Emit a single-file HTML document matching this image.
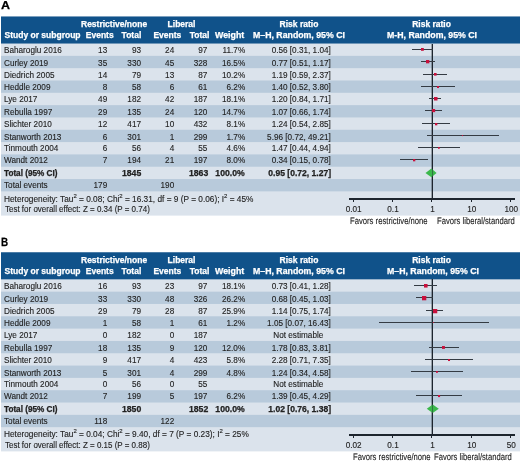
<!DOCTYPE html>
<html><head><meta charset="utf-8"><style>
html,body{margin:0;padding:0;background:#fff;}
body{width:520px;height:463px;position:relative;overflow:hidden;font-family:"Liberation Sans",sans-serif;color:#222222;}
.t{position:absolute;white-space:nowrap;line-height:1;-webkit-text-stroke:0.12px currentColor;}
.r{position:absolute;}
svg.r{overflow:visible;}
#tx{position:absolute;left:0;top:0;width:520px;height:463px;will-change:transform;}
sup{font-size:72%;vertical-align:0;position:relative;top:-0.62em;line-height:0;}
</style></head><body>
<div class="r" style="left:1.00px;top:16.00px;width:519.00px;height:1.00px;background:#7ca0bf;"></div>
<div class="r" style="left:1.00px;top:17.00px;width:519.00px;height:26.00px;background:#10528a;"></div>
<div class="r" style="left:1.00px;top:43.00px;width:519.00px;height:1.00px;background:#6f96b8;"></div>
<div class="r" style="left:1.00px;top:44.00px;width:519.00px;height:11.00px;background:#dbe3ec;"></div>
<div class="r" style="left:1.00px;top:55.00px;width:519.00px;height:1.00px;background:#d6dfe9;"></div>
<div class="r" style="left:1.00px;top:56.00px;width:519.00px;height:12.00px;background:#b8cadb;"></div>
<div class="r" style="left:1.00px;top:68.00px;width:519.00px;height:1.00px;background:#d5dfe9;"></div>
<div class="r" style="left:1.00px;top:69.00px;width:519.00px;height:11.00px;background:#dbe3ec;"></div>
<div class="r" style="left:1.00px;top:80.00px;width:519.00px;height:1.00px;background:#c9d6e3;"></div>
<div class="r" style="left:1.00px;top:81.00px;width:519.00px;height:11.00px;background:#b8cadb;"></div>
<div class="r" style="left:1.00px;top:92.00px;width:519.00px;height:1.00px;background:#bfcfde;"></div>
<div class="r" style="left:1.00px;top:93.00px;width:519.00px;height:12.00px;background:#dbe3ec;"></div>
<div class="r" style="left:1.00px;top:105.00px;width:519.00px;height:1.00px;background:#bdcddd;"></div>
<div class="r" style="left:1.00px;top:106.00px;width:519.00px;height:11.00px;background:#b8cadb;"></div>
<div class="r" style="left:1.00px;top:117.00px;width:519.00px;height:1.00px;background:#cbd8e4;"></div>
<div class="r" style="left:1.00px;top:118.00px;width:519.00px;height:11.00px;background:#dbe3ec;"></div>
<div class="r" style="left:1.00px;top:129.00px;width:519.00px;height:1.00px;background:#d3dde8;"></div>
<div class="r" style="left:1.00px;top:130.00px;width:519.00px;height:12.00px;background:#b8cadb;"></div>
<div class="r" style="left:1.00px;top:142.00px;width:519.00px;height:1.00px;background:#d8e1ea;"></div>
<div class="r" style="left:1.00px;top:143.00px;width:519.00px;height:11.00px;background:#dbe3ec;"></div>
<div class="r" style="left:1.00px;top:154.00px;width:519.00px;height:1.00px;background:#c6d4e2;"></div>
<div class="r" style="left:1.00px;top:155.00px;width:519.00px;height:11.00px;background:#b8cadb;"></div>
<div class="r" style="left:1.00px;top:166.00px;width:519.00px;height:1.00px;background:#c1d1e0;"></div>
<div class="r" style="left:1.00px;top:167.00px;width:519.00px;height:12.00px;background:#dbe3ec;"></div>
<div class="r" style="left:1.00px;top:179.00px;width:519.00px;height:1.00px;background:#bacbdc;"></div>
<div class="r" style="left:1.00px;top:180.00px;width:519.00px;height:11.00px;background:#b8cadb;"></div>
<div class="r" style="left:1.00px;top:191.00px;width:519.00px;height:1.00px;background:#cedae6;"></div>
<div class="r" style="left:1.00px;top:192.00px;width:519.00px;height:23.00px;background:#dbe3ec;"></div>
<div class="r" style="left:1.00px;top:215.00px;width:519.00px;height:1.00px;background:#e9eef4;"></div>
<div class="r" style="left:432.00px;top:44.00px;width:1.00px;height:154.00px;background:#1d252e;"></div>
<div class="r" style="left:431.00px;top:44.00px;width:1.00px;height:154.00px;background:#1d252e;opacity:0.35;"></div>
<div class="r" style="left:349.00px;top:198.00px;width:166.00px;height:2.00px;background:#1d252e;"></div>
<div class="r" style="left:353.00px;top:200.00px;width:1.00px;height:1.60px;background:#1d252e;"></div>
<div class="r" style="left:392.00px;top:200.00px;width:1.00px;height:1.60px;background:#1d252e;"></div>
<div class="r" style="left:431.00px;top:200.00px;width:1.00px;height:1.60px;background:#1d252e;"></div>
<div class="r" style="left:471.00px;top:200.00px;width:1.00px;height:1.60px;background:#1d252e;"></div>
<div class="r" style="left:510.00px;top:200.00px;width:1.00px;height:1.60px;background:#1d252e;"></div>
<div class="r" style="left:412.24px;top:49.00px;width:20.73px;height:1.00px;background:#343b43;"></div>
<svg class="r" style="left:420.97px;top:48.40px" width="2.81" height="2.81"><rect width="2.80" height="2.80" fill="#c8103c"/></svg>
<div class="r" style="left:420.77px;top:61.00px;width:14.22px;height:1.00px;background:#343b43;"></div>
<svg class="r" style="left:426.16px;top:60.13px" width="3.34" height="3.34"><rect width="3.33" height="3.33" fill="#c8103c"/></svg>
<div class="r" style="left:423.26px;top:74.00px;width:23.81px;height:1.00px;background:#343b43;"></div>
<svg class="r" style="left:433.97px;top:73.49px" width="2.63" height="2.63"><rect width="2.62" height="2.62" fill="#c8103c"/></svg>
<div class="r" style="left:421.10px;top:86.00px;width:34.06px;height:1.00px;background:#343b43;"></div>
<svg class="r" style="left:437.04px;top:85.78px" width="2.05" height="2.05"><rect width="2.04" height="2.04" fill="#c8103c"/></svg>
<div class="r" style="left:429.31px;top:98.00px;width:12.17px;height:1.00px;background:#343b43;"></div>
<svg class="r" style="left:433.68px;top:97.06px" width="3.50" height="3.50"><rect width="3.49" height="3.49" fill="#c8103c"/></svg>
<div class="r" style="left:425.18px;top:110.00px;width:16.60px;height:1.00px;background:#343b43;"></div>
<svg class="r" style="left:431.89px;top:109.23px" width="3.15" height="3.15"><rect width="3.14" height="3.14" fill="#c8103c"/></svg>
<div class="r" style="left:421.75px;top:123.00px;width:28.49px;height:1.00px;background:#343b43;"></div>
<svg class="r" style="left:434.82px;top:122.63px" width="2.34" height="2.34"><rect width="2.33" height="2.33" fill="#c8103c"/></svg>
<div class="r" style="left:426.67px;top:135.00px;width:72.34px;height:1.00px;background:#343b43;"></div>
<svg class="r" style="left:462.33px;top:135.27px" width="1.08" height="1.08"><rect width="1.07" height="1.07" fill="#c8103c"/></svg>
<div class="r" style="left:418.24px;top:147.00px;width:41.41px;height:1.00px;background:#343b43;"></div>
<svg class="r" style="left:438.02px;top:146.92px" width="1.77" height="1.77"><rect width="1.76" height="1.76" fill="#c8103c"/></svg>
<div class="r" style="left:399.81px;top:159.00px;width:28.23px;height:1.00px;background:#343b43;"></div>
<svg class="r" style="left:412.67px;top:158.64px" width="2.33" height="2.33"><rect width="2.32" height="2.32" fill="#c8103c"/></svg>
<div class="r" style="left:1.00px;top:252.00px;width:519.00px;height:1.00px;background:#4c7da7;"></div>
<div class="r" style="left:1.00px;top:253.00px;width:519.00px;height:26.00px;background:#10528a;"></div>
<div class="r" style="left:1.00px;top:279.00px;width:519.00px;height:1.00px;background:#98b3cc;"></div>
<div class="r" style="left:1.00px;top:280.00px;width:519.00px;height:11.00px;background:#dbe3ec;"></div>
<div class="r" style="left:1.00px;top:291.00px;width:519.00px;height:1.00px;background:#cfdae6;"></div>
<div class="r" style="left:1.00px;top:292.00px;width:519.00px;height:11.00px;background:#b8cadb;"></div>
<div class="r" style="left:1.00px;top:303.00px;width:519.00px;height:1.00px;background:#b9cbdc;"></div>
<div class="r" style="left:1.00px;top:304.00px;width:519.00px;height:12.00px;background:#dbe3ec;"></div>
<div class="r" style="left:1.00px;top:316.00px;width:519.00px;height:1.00px;background:#c2d1e0;"></div>
<div class="r" style="left:1.00px;top:317.00px;width:519.00px;height:11.00px;background:#b8cadb;"></div>
<div class="r" style="left:1.00px;top:328.00px;width:519.00px;height:1.00px;background:#c6d4e2;"></div>
<div class="r" style="left:1.00px;top:329.00px;width:519.00px;height:11.00px;background:#dbe3ec;"></div>
<div class="r" style="left:1.00px;top:340.00px;width:519.00px;height:1.00px;background:#d9e1eb;"></div>
<div class="r" style="left:1.00px;top:341.00px;width:519.00px;height:12.00px;background:#b8cadb;"></div>
<div class="r" style="left:1.00px;top:353.00px;width:519.00px;height:1.00px;background:#d2dde8;"></div>
<div class="r" style="left:1.00px;top:354.00px;width:519.00px;height:11.00px;background:#dbe3ec;"></div>
<div class="r" style="left:1.00px;top:365.00px;width:519.00px;height:1.00px;background:#ccd8e5;"></div>
<div class="r" style="left:1.00px;top:366.00px;width:519.00px;height:11.00px;background:#b8cadb;"></div>
<div class="r" style="left:1.00px;top:377.00px;width:519.00px;height:1.00px;background:#bccddd;"></div>
<div class="r" style="left:1.00px;top:378.00px;width:519.00px;height:12.00px;background:#dbe3ec;"></div>
<div class="r" style="left:1.00px;top:390.00px;width:519.00px;height:1.00px;background:#bfcfdf;"></div>
<div class="r" style="left:1.00px;top:391.00px;width:519.00px;height:11.00px;background:#b8cadb;"></div>
<div class="r" style="left:1.00px;top:402.00px;width:519.00px;height:1.00px;background:#c8d6e3;"></div>
<div class="r" style="left:1.00px;top:403.00px;width:519.00px;height:11.00px;background:#dbe3ec;"></div>
<div class="r" style="left:1.00px;top:414.00px;width:519.00px;height:1.00px;background:#d6dfe9;"></div>
<div class="r" style="left:1.00px;top:415.00px;width:519.00px;height:12.00px;background:#b8cadb;"></div>
<div class="r" style="left:1.00px;top:427.00px;width:519.00px;height:1.00px;background:#d5dfe9;"></div>
<div class="r" style="left:1.00px;top:428.00px;width:519.00px;height:23.00px;background:#dbe3ec;"></div>
<div class="r" style="left:1.00px;top:451.00px;width:519.00px;height:1.00px;background:#f1f4f7;"></div>
<div class="r" style="left:432.00px;top:279.00px;width:1.00px;height:155.00px;background:#1d252e;"></div>
<div class="r" style="left:431.00px;top:279.00px;width:1.00px;height:155.00px;background:#1d252e;opacity:0.35;"></div>
<div class="r" style="left:349.00px;top:434.00px;width:166.00px;height:2.00px;background:#1d252e;"></div>
<div class="r" style="left:353.00px;top:436.00px;width:1.00px;height:1.60px;background:#1d252e;"></div>
<div class="r" style="left:392.00px;top:436.00px;width:1.00px;height:1.60px;background:#1d252e;"></div>
<div class="r" style="left:431.00px;top:436.00px;width:1.00px;height:1.60px;background:#1d252e;"></div>
<div class="r" style="left:471.00px;top:436.00px;width:1.00px;height:1.60px;background:#1d252e;"></div>
<div class="r" style="left:510.00px;top:436.00px;width:1.00px;height:1.60px;background:#1d252e;"></div>
<div class="r" style="left:414.29px;top:285.00px;width:22.99px;height:1.00px;background:#343b43;"></div>
<svg class="r" style="left:424.16px;top:284.01px" width="3.58" height="3.58"><rect width="3.57" height="3.57" fill="#c8103c"/></svg>
<div class="r" style="left:416.17px;top:297.00px;width:16.72px;height:1.00px;background:#343b43;"></div>
<svg class="r" style="left:422.36px;top:295.65px" width="4.31" height="4.31"><rect width="4.30" height="4.30" fill="#c8103c"/></svg>
<div class="r" style="left:426.49px;top:310.00px;width:17.00px;height:1.00px;background:#343b43;"></div>
<svg class="r" style="left:432.81px;top:308.66px" width="4.28" height="4.28"><rect width="4.27" height="4.27" fill="#c8103c"/></svg>
<div class="r" style="left:378.60px;top:322.00px;width:110.23px;height:1.00px;background:#343b43;"></div>
<svg class="r" style="left:432.83px;top:322.34px" width="0.93" height="0.93"><rect width="0.92" height="0.92" fill="#c8103c"/></svg>
<div class="r" style="left:428.54px;top:347.00px;width:30.78px;height:1.00px;background:#343b43;"></div>
<svg class="r" style="left:442.49px;top:346.35px" width="2.92" height="2.92"><rect width="2.91" height="2.91" fill="#c8103c"/></svg>
<div class="r" style="left:425.38px;top:359.00px;width:47.20px;height:1.00px;background:#343b43;"></div>
<svg class="r" style="left:447.93px;top:358.79px" width="2.03" height="2.03"><rect width="2.02" height="2.02" fill="#c8103c"/></svg>
<div class="r" style="left:410.51px;top:371.00px;width:52.52px;height:1.00px;background:#343b43;"></div>
<svg class="r" style="left:435.72px;top:370.88px" width="1.85" height="1.85"><rect width="1.84" height="1.84" fill="#c8103c"/></svg>
<div class="r" style="left:416.17px;top:395.00px;width:45.53px;height:1.00px;background:#343b43;"></div>
<svg class="r" style="left:437.90px;top:394.75px" width="2.10" height="2.10"><rect width="2.09" height="2.09" fill="#c8103c"/></svg>
<svg class="r" style="left:0;top:0" width="520" height="463"><polygon points="425.47,172.89 431.42,168.59 436.59,172.89 431.42,177.19" fill="#3cb84c"/><rect x="432" y="168.59" width="1" height="8.60" fill="#1d252e" opacity="0.45"/><polygon points="426.76,408.69 432.70,404.39 438.80,408.69 432.70,412.99" fill="#3cb84c"/><rect x="432" y="404.39" width="1" height="8.60" fill="#1d252e" opacity="0.45"/></svg>
<div id="tx">
<div class="t" style="top:0px;font-size:11.6px;font-weight:bold;-webkit-text-stroke:0.25px currentColor;color:#000;left:1.00px;text-rendering:geometricPrecision;"><span style="display:inline-block;transform:scaleX(1.08);transform-origin:left">A</span></div>
<div class="t" style="top:20px;font-size:8.5px;font-weight:bold;-webkit-text-stroke:0.25px currentColor;color:#fff;left:81.00px;">Restrictive/none</div>
<div class="t" style="top:20px;font-size:8.5px;font-weight:bold;-webkit-text-stroke:0.25px currentColor;color:#fff;left:167.60px;">Liberal</div>
<div class="t" style="top:20px;font-size:8.5px;font-weight:bold;-webkit-text-stroke:0.25px currentColor;color:#fff;left:279.60px;">Risk ratio</div>
<div class="t" style="top:20px;font-size:8.5px;font-weight:bold;-webkit-text-stroke:0.25px currentColor;color:#fff;left:412.20px;">Risk ratio</div>
<div class="t" style="top:31px;font-size:8.5px;font-weight:bold;-webkit-text-stroke:0.25px currentColor;color:#fff;left:4.50px;">Study or subgroup</div>
<div class="t" style="top:31px;font-size:8.5px;font-weight:bold;-webkit-text-stroke:0.25px currentColor;color:#fff;left:85.80px;">Events</div>
<div class="t" style="top:31px;font-size:8.5px;font-weight:bold;-webkit-text-stroke:0.25px currentColor;color:#fff;left:121.60px;">Total</div>
<div class="t" style="top:31px;font-size:8.5px;font-weight:bold;-webkit-text-stroke:0.25px currentColor;color:#fff;left:153.40px;">Events</div>
<div class="t" style="top:31px;font-size:8.5px;font-weight:bold;-webkit-text-stroke:0.25px currentColor;color:#fff;left:189.70px;">Total</div>
<div class="t" style="top:31px;font-size:8.5px;font-weight:bold;-webkit-text-stroke:0.25px currentColor;color:#fff;left:215.30px;"><span style="display:inline-block;transform:scaleX(1.04);transform-origin:left">Weight</span></div>
<div class="t" style="top:31px;font-size:8.5px;font-weight:bold;-webkit-text-stroke:0.25px currentColor;color:#fff;left:253.40px;"><span style="display:inline-block;transform:scaleX(1.03);transform-origin:left">M&ndash;H, Random, 95% CI</span></div>
<div class="t" style="top:31px;font-size:8.5px;font-weight:bold;-webkit-text-stroke:0.25px currentColor;color:#fff;left:387.40px;"><span style="display:inline-block;transform:scaleX(1.03);transform-origin:left">M-H, Random, 95% CI</span></div>
<div class="t" style="top:47px;font-size:8.2px;left:4.00px;">Baharoglu 2016</div>
<div class="t" style="top:47px;font-size:8.2px;right:412.80px;">13</div>
<div class="t" style="top:47px;font-size:8.2px;right:379.00px;">93</div>
<div class="t" style="top:47px;font-size:8.2px;right:345.80px;">24</div>
<div class="t" style="top:47px;font-size:8.2px;right:312.60px;">97</div>
<div class="t" style="top:47px;font-size:8.2px;right:274.80px;">11.7%</div>
<div class="t" style="top:47px;font-size:8.2px;right:189.20px;">0.56 [0.31, 1.04]</div>
<div class="t" style="top:60px;font-size:8.2px;left:4.00px;">Curley 2019</div>
<div class="t" style="top:60px;font-size:8.2px;right:412.80px;">35</div>
<div class="t" style="top:60px;font-size:8.2px;right:379.00px;">330</div>
<div class="t" style="top:60px;font-size:8.2px;right:345.80px;">45</div>
<div class="t" style="top:60px;font-size:8.2px;right:312.60px;">328</div>
<div class="t" style="top:60px;font-size:8.2px;right:274.80px;">16.5%</div>
<div class="t" style="top:60px;font-size:8.2px;right:189.20px;">0.77 [0.51, 1.17]</div>
<div class="t" style="top:72px;font-size:8.2px;left:4.00px;">Diedrich 2005</div>
<div class="t" style="top:72px;font-size:8.2px;right:412.80px;">14</div>
<div class="t" style="top:72px;font-size:8.2px;right:379.00px;">79</div>
<div class="t" style="top:72px;font-size:8.2px;right:345.80px;">13</div>
<div class="t" style="top:72px;font-size:8.2px;right:312.60px;">87</div>
<div class="t" style="top:72px;font-size:8.2px;right:274.80px;">10.2%</div>
<div class="t" style="top:72px;font-size:8.2px;right:189.20px;">1.19 [0.59, 2.37]</div>
<div class="t" style="top:84px;font-size:8.2px;left:4.00px;">Heddle 2009</div>
<div class="t" style="top:84px;font-size:8.2px;right:412.80px;">8</div>
<div class="t" style="top:84px;font-size:8.2px;right:379.00px;">58</div>
<div class="t" style="top:84px;font-size:8.2px;right:345.80px;">6</div>
<div class="t" style="top:84px;font-size:8.2px;right:312.60px;">61</div>
<div class="t" style="top:84px;font-size:8.2px;right:274.80px;">6.2%</div>
<div class="t" style="top:84px;font-size:8.2px;right:189.20px;">1.40 [0.52, 3.80]</div>
<div class="t" style="top:96px;font-size:8.2px;left:4.00px;">Lye 2017</div>
<div class="t" style="top:96px;font-size:8.2px;right:412.80px;">49</div>
<div class="t" style="top:96px;font-size:8.2px;right:379.00px;">182</div>
<div class="t" style="top:96px;font-size:8.2px;right:345.80px;">42</div>
<div class="t" style="top:96px;font-size:8.2px;right:312.60px;">187</div>
<div class="t" style="top:96px;font-size:8.2px;right:274.80px;">18.1%</div>
<div class="t" style="top:96px;font-size:8.2px;right:189.20px;">1.20 [0.84, 1.71]</div>
<div class="t" style="top:109px;font-size:8.2px;left:4.00px;">Rebulla 1997</div>
<div class="t" style="top:109px;font-size:8.2px;right:412.80px;">29</div>
<div class="t" style="top:109px;font-size:8.2px;right:379.00px;">135</div>
<div class="t" style="top:109px;font-size:8.2px;right:345.80px;">24</div>
<div class="t" style="top:109px;font-size:8.2px;right:312.60px;">120</div>
<div class="t" style="top:109px;font-size:8.2px;right:274.80px;">14.7%</div>
<div class="t" style="top:109px;font-size:8.2px;right:189.20px;">1.07 [0.66, 1.74]</div>
<div class="t" style="top:121px;font-size:8.2px;left:4.00px;">Slichter 2010</div>
<div class="t" style="top:121px;font-size:8.2px;right:412.80px;">12</div>
<div class="t" style="top:121px;font-size:8.2px;right:379.00px;">417</div>
<div class="t" style="top:121px;font-size:8.2px;right:345.80px;">10</div>
<div class="t" style="top:121px;font-size:8.2px;right:312.60px;">432</div>
<div class="t" style="top:121px;font-size:8.2px;right:274.80px;">8.1%</div>
<div class="t" style="top:121px;font-size:8.2px;right:189.20px;">1.24 [0.54, 2.85]</div>
<div class="t" style="top:134px;font-size:8.2px;left:4.00px;">Stanworth 2013</div>
<div class="t" style="top:134px;font-size:8.2px;right:412.80px;">6</div>
<div class="t" style="top:134px;font-size:8.2px;right:379.00px;">301</div>
<div class="t" style="top:134px;font-size:8.2px;right:345.80px;">1</div>
<div class="t" style="top:134px;font-size:8.2px;right:312.60px;">299</div>
<div class="t" style="top:134px;font-size:8.2px;right:274.80px;">1.7%</div>
<div class="t" style="top:134px;font-size:8.2px;right:189.20px;">5.96 [0.72, 49.21]</div>
<div class="t" style="top:145px;font-size:8.2px;left:4.00px;">Tinmouth 2004</div>
<div class="t" style="top:145px;font-size:8.2px;right:412.80px;">6</div>
<div class="t" style="top:145px;font-size:8.2px;right:379.00px;">56</div>
<div class="t" style="top:145px;font-size:8.2px;right:345.80px;">4</div>
<div class="t" style="top:145px;font-size:8.2px;right:312.60px;">55</div>
<div class="t" style="top:145px;font-size:8.2px;right:274.80px;">4.6%</div>
<div class="t" style="top:145px;font-size:8.2px;right:189.20px;">1.47 [0.44, 4.94]</div>
<div class="t" style="top:157px;font-size:8.2px;left:4.00px;">Wandt 2012</div>
<div class="t" style="top:157px;font-size:8.2px;right:412.80px;">7</div>
<div class="t" style="top:157px;font-size:8.2px;right:379.00px;">194</div>
<div class="t" style="top:157px;font-size:8.2px;right:345.80px;">21</div>
<div class="t" style="top:157px;font-size:8.2px;right:312.60px;">197</div>
<div class="t" style="top:157px;font-size:8.2px;right:274.80px;">8.0%</div>
<div class="t" style="top:157px;font-size:8.2px;right:189.20px;">0.34 [0.15, 0.78]</div>
<div class="t" style="top:170px;font-size:8.2px;font-weight:bold;-webkit-text-stroke:0.25px currentColor;left:4.00px;">Total (95% CI)</div>
<div class="t" style="top:170px;font-size:8.2px;font-weight:bold;-webkit-text-stroke:0.25px currentColor;right:379.00px;"><span style="display:inline-block;transform:scaleX(1.06);transform-origin:right">1845</span></div>
<div class="t" style="top:170px;font-size:8.2px;font-weight:bold;-webkit-text-stroke:0.25px currentColor;right:311.60px;"><span style="display:inline-block;transform:scaleX(1.06);transform-origin:right">1863</span></div>
<div class="t" style="top:170px;font-size:8.2px;font-weight:bold;-webkit-text-stroke:0.25px currentColor;right:275.00px;"><span style="display:inline-block;transform:scaleX(1.06);transform-origin:right">100.0%</span></div>
<div class="t" style="top:170px;font-size:8.2px;font-weight:bold;-webkit-text-stroke:0.25px currentColor;right:189.20px;"><span style="display:inline-block;transform:scaleX(1.045);transform-origin:right">0.95 [0.72, 1.27]</span></div>
<div class="t" style="top:182px;font-size:8.2px;left:4.00px;">Total events</div>
<div class="t" style="top:182px;font-size:8.2px;right:412.80px;">179</div>
<div class="t" style="top:182px;font-size:8.2px;right:345.80px;">190</div>
<div class="t" style="top:182px;font-size:8.2px;right:189.20px;"></div>
<div class="t" style="top:196px;font-size:8.2px;left:4.20px;"><span style="display:inline-block;transform:scaleX(1.012);transform-origin:left">Heterogeneity: Tau<sup>2</sup> = 0.08; Chi<sup>2</sup> = 16.31, df = 9 (P = 0.06); I<sup>2</sup> = 45%</span></div>
<div class="t" style="top:206px;font-size:8.2px;left:4.60px;"><span style="display:inline-block;transform:scaleX(0.975);transform-origin:left">Test for overall effect: Z = 0.34 (P = 0.74)</span></div>
<div class="t" style="top:206px;font-size:8.2px;color:#222;left:53.60px;width:600px;text-align:center;">0.01</div>
<div class="t" style="top:206px;font-size:8.2px;color:#222;left:93.03px;width:600px;text-align:center;">0.1</div>
<div class="t" style="top:206px;font-size:8.2px;color:#222;left:132.46px;width:600px;text-align:center;">1</div>
<div class="t" style="top:206px;font-size:8.2px;color:#222;left:171.89px;width:600px;text-align:center;">10</div>
<div class="t" style="top:206px;font-size:8.2px;color:#222;left:211.32px;width:600px;text-align:center;">100</div>
<div class="t" style="top:217px;font-size:9.6px;color:#222;left:350.40px;text-rendering:geometricPrecision;"><span style="display:inline-block;transform:scaleX(0.8);transform-origin:left">Favors restrictive/none</span></div>
<div class="t" style="top:217px;font-size:9.6px;color:#222;left:436.90px;text-rendering:geometricPrecision;"><span style="display:inline-block;transform:scaleX(0.797);transform-origin:left">Favors liberal/standard</span></div>
<div class="t" style="top:236px;font-size:12.0px;font-weight:bold;-webkit-text-stroke:0.25px currentColor;color:#000;left:0.60px;text-rendering:geometricPrecision;"><span style="display:inline-block;transform:scaleX(0.82);transform-origin:left">B</span></div>
<div class="t" style="top:256px;font-size:8.5px;font-weight:bold;-webkit-text-stroke:0.25px currentColor;color:#fff;left:81.00px;">Restrictive/none</div>
<div class="t" style="top:256px;font-size:8.5px;font-weight:bold;-webkit-text-stroke:0.25px currentColor;color:#fff;left:167.60px;">Liberal</div>
<div class="t" style="top:256px;font-size:8.5px;font-weight:bold;-webkit-text-stroke:0.25px currentColor;color:#fff;left:279.60px;">Risk ratio</div>
<div class="t" style="top:256px;font-size:8.5px;font-weight:bold;-webkit-text-stroke:0.25px currentColor;color:#fff;left:412.20px;">Risk ratio</div>
<div class="t" style="top:267px;font-size:8.5px;font-weight:bold;-webkit-text-stroke:0.25px currentColor;color:#fff;left:4.50px;">Study or subgroup</div>
<div class="t" style="top:267px;font-size:8.5px;font-weight:bold;-webkit-text-stroke:0.25px currentColor;color:#fff;left:85.80px;">Events</div>
<div class="t" style="top:267px;font-size:8.5px;font-weight:bold;-webkit-text-stroke:0.25px currentColor;color:#fff;left:121.60px;">Total</div>
<div class="t" style="top:267px;font-size:8.5px;font-weight:bold;-webkit-text-stroke:0.25px currentColor;color:#fff;left:153.40px;">Events</div>
<div class="t" style="top:267px;font-size:8.5px;font-weight:bold;-webkit-text-stroke:0.25px currentColor;color:#fff;left:189.70px;">Total</div>
<div class="t" style="top:267px;font-size:8.5px;font-weight:bold;-webkit-text-stroke:0.25px currentColor;color:#fff;left:215.30px;"><span style="display:inline-block;transform:scaleX(1.04);transform-origin:left">Weight</span></div>
<div class="t" style="top:267px;font-size:8.5px;font-weight:bold;-webkit-text-stroke:0.25px currentColor;color:#fff;left:253.40px;"><span style="display:inline-block;transform:scaleX(1.03);transform-origin:left">M&ndash;H, Random, 95% CI</span></div>
<div class="t" style="top:267px;font-size:8.5px;font-weight:bold;-webkit-text-stroke:0.25px currentColor;color:#fff;left:387.40px;"><span style="display:inline-block;transform:scaleX(1.03);transform-origin:left">M&ndash;H, Random, 95% CI</span></div>
<div class="t" style="top:283px;font-size:8.2px;left:4.00px;">Baharoglu 2016</div>
<div class="t" style="top:283px;font-size:8.2px;right:412.80px;">16</div>
<div class="t" style="top:283px;font-size:8.2px;right:379.00px;">93</div>
<div class="t" style="top:283px;font-size:8.2px;right:345.80px;">23</div>
<div class="t" style="top:283px;font-size:8.2px;right:312.60px;">97</div>
<div class="t" style="top:283px;font-size:8.2px;right:274.80px;">18.1%</div>
<div class="t" style="top:283px;font-size:8.2px;right:189.20px;">0.73 [0.41, 1.28]</div>
<div class="t" style="top:296px;font-size:8.2px;left:4.00px;">Curley 2019</div>
<div class="t" style="top:296px;font-size:8.2px;right:412.80px;">33</div>
<div class="t" style="top:296px;font-size:8.2px;right:379.00px;">330</div>
<div class="t" style="top:296px;font-size:8.2px;right:345.80px;">48</div>
<div class="t" style="top:296px;font-size:8.2px;right:312.60px;">326</div>
<div class="t" style="top:296px;font-size:8.2px;right:274.80px;">26.2%</div>
<div class="t" style="top:296px;font-size:8.2px;right:189.20px;">0.68 [0.45, 1.03]</div>
<div class="t" style="top:308px;font-size:8.2px;left:4.00px;">Diedrich 2005</div>
<div class="t" style="top:308px;font-size:8.2px;right:412.80px;">29</div>
<div class="t" style="top:308px;font-size:8.2px;right:379.00px;">79</div>
<div class="t" style="top:308px;font-size:8.2px;right:345.80px;">28</div>
<div class="t" style="top:308px;font-size:8.2px;right:312.60px;">87</div>
<div class="t" style="top:308px;font-size:8.2px;right:274.80px;">25.9%</div>
<div class="t" style="top:308px;font-size:8.2px;right:189.20px;">1.14 [0.75, 1.74]</div>
<div class="t" style="top:320px;font-size:8.2px;left:4.00px;">Heddle 2009</div>
<div class="t" style="top:320px;font-size:8.2px;right:412.80px;">1</div>
<div class="t" style="top:320px;font-size:8.2px;right:379.00px;">58</div>
<div class="t" style="top:320px;font-size:8.2px;right:345.80px;">1</div>
<div class="t" style="top:320px;font-size:8.2px;right:312.60px;">61</div>
<div class="t" style="top:320px;font-size:8.2px;right:274.80px;">1.2%</div>
<div class="t" style="top:320px;font-size:8.2px;right:189.20px;">1.05 [0.07, 16.43]</div>
<div class="t" style="top:332px;font-size:8.2px;left:4.00px;">Lye 2017</div>
<div class="t" style="top:332px;font-size:8.2px;right:412.80px;">0</div>
<div class="t" style="top:332px;font-size:8.2px;right:379.00px;">182</div>
<div class="t" style="top:332px;font-size:8.2px;right:345.80px;">0</div>
<div class="t" style="top:332px;font-size:8.2px;right:312.60px;">187</div>
<div class="t" style="top:332px;font-size:8.2px;left:273.30px;">Not estimable</div>
<div class="t" style="top:345px;font-size:8.2px;left:4.00px;">Rebulla 1997</div>
<div class="t" style="top:345px;font-size:8.2px;right:412.80px;">18</div>
<div class="t" style="top:345px;font-size:8.2px;right:379.00px;">135</div>
<div class="t" style="top:345px;font-size:8.2px;right:345.80px;">9</div>
<div class="t" style="top:345px;font-size:8.2px;right:312.60px;">120</div>
<div class="t" style="top:345px;font-size:8.2px;right:274.80px;">12.0%</div>
<div class="t" style="top:345px;font-size:8.2px;right:189.20px;">1.78 [0.83, 3.81]</div>
<div class="t" style="top:357px;font-size:8.2px;left:4.00px;">Slichter 2010</div>
<div class="t" style="top:357px;font-size:8.2px;right:412.80px;">9</div>
<div class="t" style="top:357px;font-size:8.2px;right:379.00px;">417</div>
<div class="t" style="top:357px;font-size:8.2px;right:345.80px;">4</div>
<div class="t" style="top:357px;font-size:8.2px;right:312.60px;">423</div>
<div class="t" style="top:357px;font-size:8.2px;right:274.80px;">5.8%</div>
<div class="t" style="top:357px;font-size:8.2px;right:189.20px;">2.28 [0.71, 7.35]</div>
<div class="t" style="top:370px;font-size:8.2px;left:4.00px;">Stanworth 2013</div>
<div class="t" style="top:370px;font-size:8.2px;right:412.80px;">5</div>
<div class="t" style="top:370px;font-size:8.2px;right:379.00px;">301</div>
<div class="t" style="top:370px;font-size:8.2px;right:345.80px;">4</div>
<div class="t" style="top:370px;font-size:8.2px;right:312.60px;">299</div>
<div class="t" style="top:370px;font-size:8.2px;right:274.80px;">4.8%</div>
<div class="t" style="top:370px;font-size:8.2px;right:189.20px;">1.24 [0.34, 4.58]</div>
<div class="t" style="top:381px;font-size:8.2px;left:4.00px;">Tinmouth 2004</div>
<div class="t" style="top:381px;font-size:8.2px;right:412.80px;">0</div>
<div class="t" style="top:381px;font-size:8.2px;right:379.00px;">56</div>
<div class="t" style="top:381px;font-size:8.2px;right:345.80px;">0</div>
<div class="t" style="top:381px;font-size:8.2px;right:312.60px;">55</div>
<div class="t" style="top:381px;font-size:8.2px;left:273.30px;">Not estimable</div>
<div class="t" style="top:393px;font-size:8.2px;left:4.00px;">Wandt 2012</div>
<div class="t" style="top:393px;font-size:8.2px;right:412.80px;">7</div>
<div class="t" style="top:393px;font-size:8.2px;right:379.00px;">199</div>
<div class="t" style="top:393px;font-size:8.2px;right:345.80px;">5</div>
<div class="t" style="top:393px;font-size:8.2px;right:312.60px;">197</div>
<div class="t" style="top:393px;font-size:8.2px;right:274.80px;">6.2%</div>
<div class="t" style="top:393px;font-size:8.2px;right:189.20px;">1.39 [0.45, 4.29]</div>
<div class="t" style="top:406px;font-size:8.2px;font-weight:bold;-webkit-text-stroke:0.25px currentColor;left:4.00px;">Total (95% CI)</div>
<div class="t" style="top:406px;font-size:8.2px;font-weight:bold;-webkit-text-stroke:0.25px currentColor;right:379.00px;"><span style="display:inline-block;transform:scaleX(1.06);transform-origin:right">1850</span></div>
<div class="t" style="top:406px;font-size:8.2px;font-weight:bold;-webkit-text-stroke:0.25px currentColor;right:311.60px;"><span style="display:inline-block;transform:scaleX(1.06);transform-origin:right">1852</span></div>
<div class="t" style="top:406px;font-size:8.2px;font-weight:bold;-webkit-text-stroke:0.25px currentColor;right:275.00px;"><span style="display:inline-block;transform:scaleX(1.06);transform-origin:right">100.0%</span></div>
<div class="t" style="top:406px;font-size:8.2px;font-weight:bold;-webkit-text-stroke:0.25px currentColor;right:189.20px;"><span style="display:inline-block;transform:scaleX(1.045);transform-origin:right">1.02 [0.76, 1.38]</span></div>
<div class="t" style="top:418px;font-size:8.2px;left:4.00px;">Total events</div>
<div class="t" style="top:418px;font-size:8.2px;right:412.80px;">118</div>
<div class="t" style="top:418px;font-size:8.2px;right:345.80px;">122</div>
<div class="t" style="top:418px;font-size:8.2px;right:189.20px;"></div>
<div class="t" style="top:431px;font-size:8.2px;left:4.20px;"><span style="display:inline-block;transform:scaleX(1.012);transform-origin:left">Heterogeneity: Tau<sup>2</sup> = 0.04; Chi<sup>2</sup> = 9.40, df = 7 (P = 0.23); I<sup>2</sup> = 25%</span></div>
<div class="t" style="top:442px;font-size:8.2px;left:4.60px;"><span style="display:inline-block;transform:scaleX(0.975);transform-origin:left">Test for overall effect: Z = 0.15 (P = 0.88)</span></div>
<div class="t" style="top:442px;font-size:8.2px;color:#222;left:53.60px;width:600px;text-align:center;">0.02</div>
<div class="t" style="top:442px;font-size:8.2px;color:#222;left:93.03px;width:600px;text-align:center;">0.1</div>
<div class="t" style="top:442px;font-size:8.2px;color:#222;left:132.46px;width:600px;text-align:center;">1</div>
<div class="t" style="top:442px;font-size:8.2px;color:#222;left:171.89px;width:600px;text-align:center;">10</div>
<div class="t" style="top:442px;font-size:8.2px;color:#222;left:211.32px;width:600px;text-align:center;">50</div>
<div class="t" style="top:453px;font-size:9.6px;color:#222;left:353.00px;text-rendering:geometricPrecision;"><span style="display:inline-block;transform:scaleX(0.8);transform-origin:left">Favors restrictive/none</span></div>
<div class="t" style="top:453px;font-size:9.6px;color:#222;left:434.30px;text-rendering:geometricPrecision;"><span style="display:inline-block;transform:scaleX(0.797);transform-origin:left">Favors liberal/standard</span></div>
</div>
</body></html>
